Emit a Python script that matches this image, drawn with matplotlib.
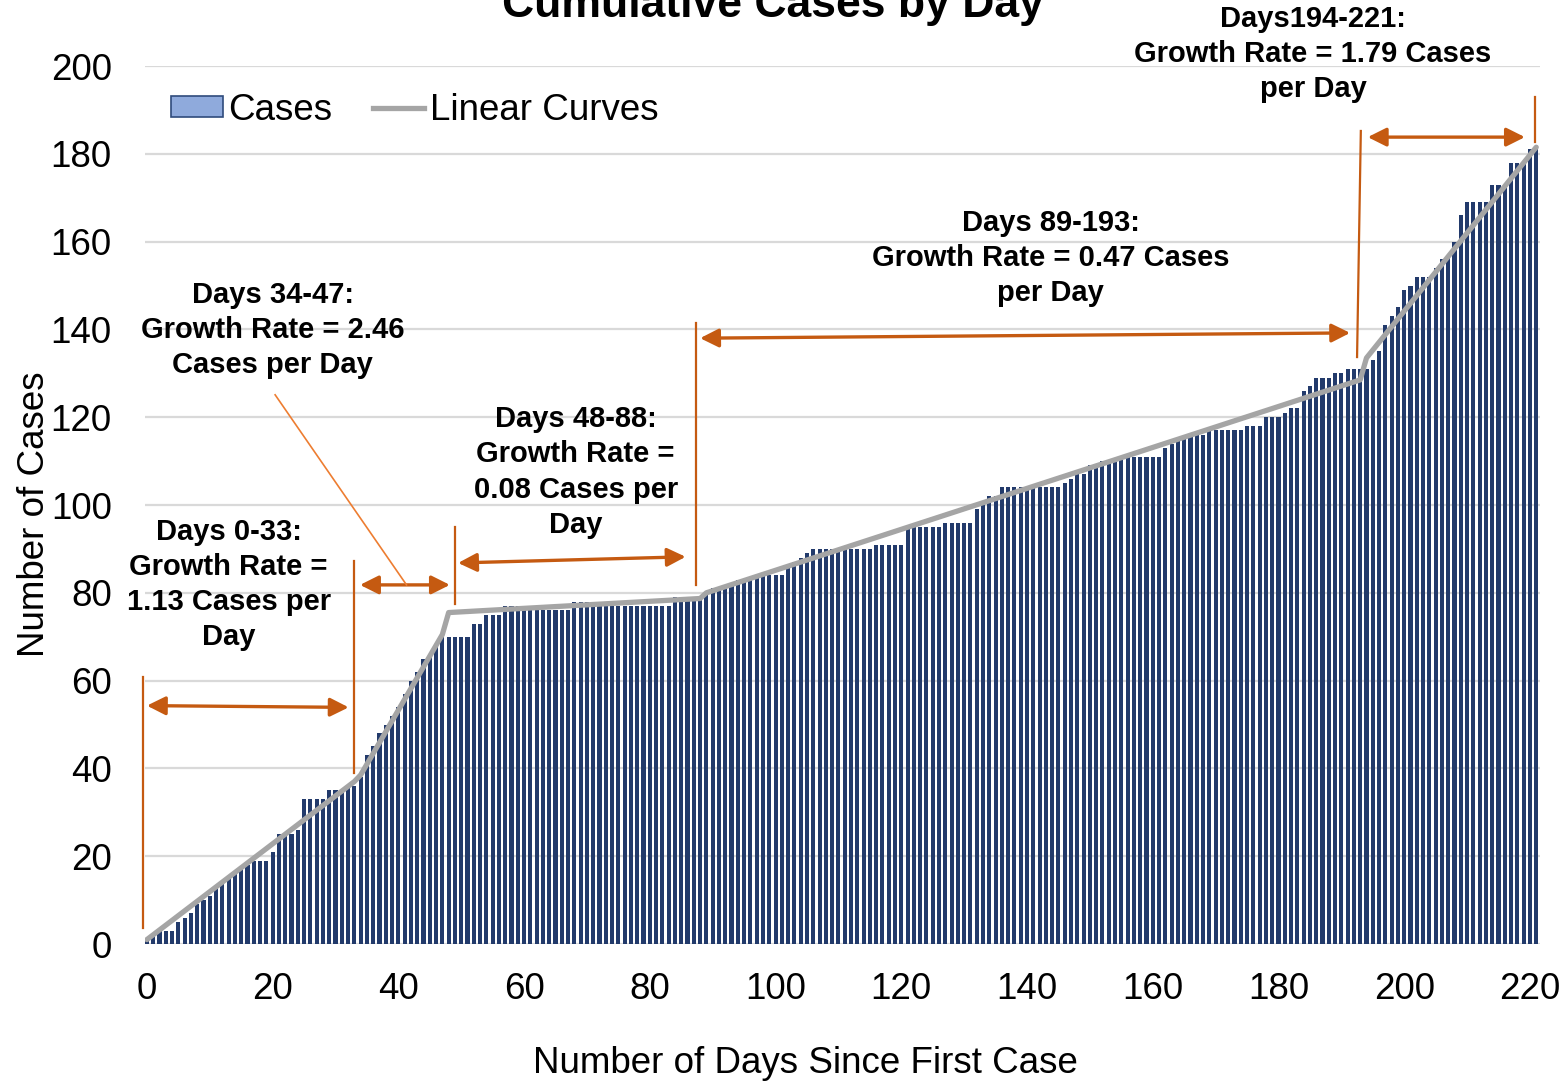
import numpy as np
import matplotlib
matplotlib.use("Agg")
import matplotlib.pyplot as plt
from matplotlib.patches import Patch
from matplotlib.lines import Line2D

plt.rcParams['font.family'] = ['Liberation Sans', 'DejaVu Sans']

# cumulative cases, one value per day
cases = [
    1, 2, 3, 3, 3, 5, 6, 7, 9, 10, 11, 13, 14, 15, 16, 17, 18, 19, 19, 19,
    21, 25, 25, 25, 26, 33, 33, 33, 33, 35, 35, 35, 36, 36, 38, 43, 45, 48, 50, 52,
    54, 57, 60, 62, 65, 66, 68, 70, 70, 70, 70, 70, 73, 73, 75, 75, 75, 77, 77, 77,
    77, 77, 76, 76, 76, 76, 76, 76, 78, 78, 78, 78, 78, 77, 77, 77, 77, 77, 77, 77,
    77, 77, 77, 77, 79, 79, 79, 79, 79, 80, 81, 81, 81, 82, 83, 83, 83, 84, 84, 84,
    84, 84, 86, 87, 88, 89, 90, 90, 90, 90, 90, 90, 90, 90, 90, 90, 91, 91, 91, 91,
    91, 95, 95, 95, 95, 95, 95, 96, 96, 96, 96, 96, 99, 100, 102, 102, 104, 104, 104, 104,
    104, 104, 104, 104, 104, 104, 105, 106, 107, 107, 109, 109, 110, 110, 110, 111, 111, 111, 111, 111,
    111, 111, 113, 114, 115, 115, 116, 116, 116, 117, 117, 117, 117, 117, 117, 118, 118, 118, 120, 120,
    120, 121, 122, 122, 126, 127, 129, 129, 129, 130, 130, 131, 131, 131, 131, 133, 135, 141, 143, 145,
    149, 150, 152, 152, 152, 154, 156, 157, 160, 166, 169, 169, 169, 169, 173, 173, 173, 178, 178, 178,
    181, 181,
]
days = np.arange(len(cases))

# piecewise linear fits (segment end points)
fit_days = [0, 33, 34, 47, 48, 88, 89, 193, 194, 221]
fit_vals = [1, 37, 38.5, 70.5, 75.5, 78.7, 80, 128.5, 133.5, 181.5]

# annotation boxes: label text, x (day), y (cases)
seg_labels = [
    "Days 0-33:\nGrowth Rate =\n1.13 Cases per\nDay",
    "Days 34-47:\nGrowth Rate = 2.46\nCases per Day",
    "Days 48-88:\nGrowth Rate =\n0.08 Cases per\nDay",
    "Days 89-193:\nGrowth Rate = 0.47 Cases\nper Day",
    "Days194-221:\nGrowth Rate = 1.79 Cases\nper Day",
]
label_x = [13.0, 20.0, 68.2, 143.8, 185.5]
label_y = [81.9, 139.9, 107.5, 156.3, 202.7]

# segment boundary markers (day, y_low, y_high)
bound_x0 = [-0.64, 32.9, 49.0, 87.3, 192.5, 220.8]
bound_x1 = [-0.64, 32.9, 49.0, 87.3, 193.1, 220.8]
bound_lo = [3.6, 39.0, 77.4, 81.8, 133.7, 182.7]
bound_hi = [60.8, 87.2, 95.0, 141.5, 185.2, 192.9]

# double arrows (x0, y0, x1, y1)
arr_x0 = [0.0, 33.9, 49.5, 88.0, 194.2]
arr_y0 = [54.3, 81.8, 86.8, 138.0, 183.8]
arr_x1 = [32.1, 48.2, 85.7, 191.4, 219.2]
arr_y1 = [53.9, 81.8, 88.2, 139.2, 183.8]

orange = '#C55A11'

fig = plt.figure(figsize=(15.68, 10.82), dpi=100)
ax = fig.add_axes([145 / 1568, 1 - 944 / 1082, 1395 / 1568, 878 / 1082])

ax.bar(days, cases, width=0.65, color='#223A6B', zorder=2)
ax.plot(fit_days, fit_vals, color='#A5A5A5', lw=3.8, solid_capstyle='round',
        solid_joinstyle='round', zorder=3)

for x0, x1, lo, hi in zip(bound_x0, bound_x1, bound_lo, bound_hi):
    ax.plot([x1, x0], [hi, lo], color=orange, lw=1.6, zorder=4, clip_on=False)

for x0, y0, x1, y1 in zip(arr_x0, arr_y0, arr_x1, arr_y1):
    ax.annotate('', xy=(x1, y1), xytext=(x0, y0),
                arrowprops=dict(arrowstyle='<|-|>', color=orange, lw=2.4,
                                mutation_scale=28, shrinkA=0, shrinkB=0),
                zorder=4, annotation_clip=False)

# leader line for the Days 34-47 label
ax.plot([20.4, 41.3], [125.1, 81.8], color='#ED7D31', lw=1.2, zorder=4)

for txt, x, y in zip(seg_labels, label_x, label_y):
    ax.text(x, y, txt, ha='center', va='center', multialignment='center',
            fontsize=21, fontweight='bold', linespacing=1.33, zorder=5)

ax.set_xlim(-0.3, 221.6)
ax.set_ylim(0, 200)
ax.set_xticks(range(0, 221, 20))
ax.set_yticks(range(0, 201, 20))
ax.tick_params(length=0, labelsize=26.5)
ax.tick_params(axis='y', pad=24)
ax.tick_params(axis='x', pad=20)
for s in ax.spines.values():
    s.set_visible(False)
ax.grid(axis='y', color='#D9D9D9', lw=1.6)
ax.set_axisbelow(True)

ax.set_xlabel('Number of Days Since First Case', fontsize=26.5)
ax.xaxis.set_label_coords((805 - 145) / 1395, -0.116)
ax.set_ylabel('Number of Cases', fontsize=26.5)
ax.yaxis.set_label_coords(-0.067, 0.49)

handles = [Patch(facecolor='#8FAADC', edgecolor='#2F4B7C', lw=1.2),
           Line2D([], [], color='#A5A5A5', lw=3.8)]
fig.legend(handles, ['Cases', 'Linear Curves'], ncol=2, frameon=False,
           loc='center left', bbox_to_anchor=(171 / 1568, 1 - 110 / 1082),
           fontsize=26.5, borderpad=0, borderaxespad=0, handlelength=1.4,
           handleheight=0.5, handletextpad=0.15, columnspacing=1.1)

fig.text(773 / 1568, 1 - 17 / 1082, 'Cumulative Cases by Day', ha='center',
         va='baseline', fontsize=32, fontweight='bold')

fig.savefig('out.png', dpi=100)
